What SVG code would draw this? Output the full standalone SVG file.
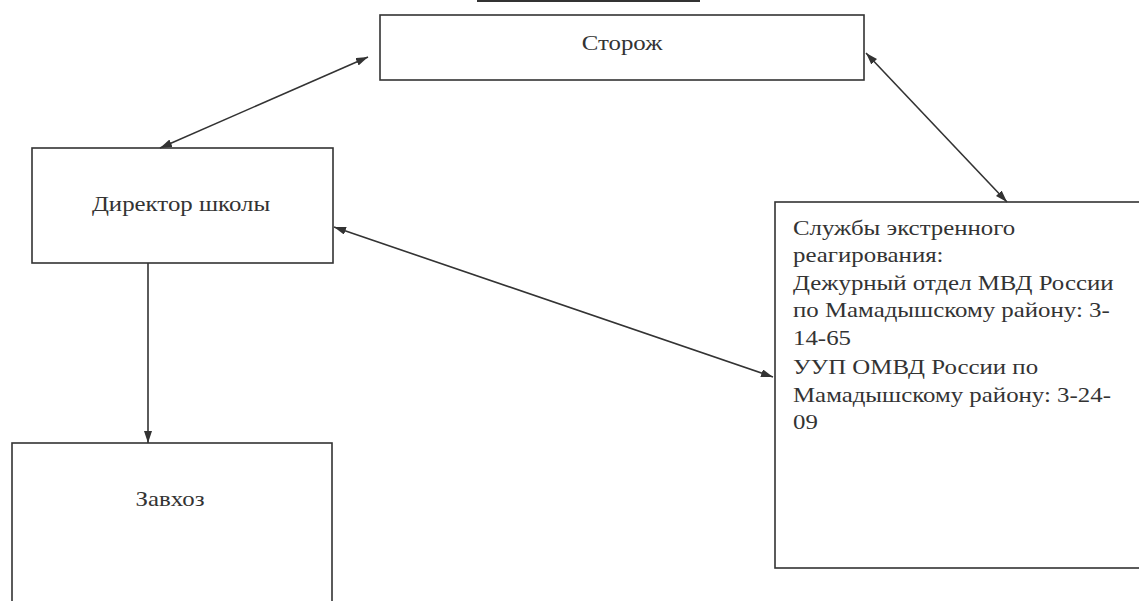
<svg xmlns="http://www.w3.org/2000/svg" width="1139" height="601" viewBox="0 0 1139 601">
<style>
.box{fill:#fff;stroke:#333;stroke-width:1.6}
.t{font-family:"Liberation Serif","Times New Roman",serif;fill:#333;font-size:22px}
.m{text-anchor:middle}
.c{stroke:#333;stroke-width:1.6;fill:none;marker-end:url(#ah);marker-start:url(#as)}
</style>
<defs>
<marker id="ah" viewBox="0 0 12 8" refX="12" refY="4" markerWidth="12" markerHeight="8" markerUnits="userSpaceOnUse" orient="auto"><path d="M0,0L12,4L0,8z" fill="#333"/></marker>
<marker id="as" viewBox="0 0 12 8" refX="0" refY="4" markerWidth="12" markerHeight="8" markerUnits="userSpaceOnUse" orient="auto"><path d="M12,0L0,4L12,8z" fill="#333"/></marker>
</defs>
<rect width="1139" height="601" fill="#fff"/>
<line x1="477" y1="1" x2="700" y2="1" stroke="#333" stroke-width="2"/>
<g id="storozh"><rect class="box" x="380" y="15" width="484" height="65"/><text class="t m" transform="translate(622,0) scale(1.13,1)" x="0" y="50">Сторож</text></g>
<g id="director"><rect class="box" x="32" y="148" width="301" height="115"/><text class="t m" transform="translate(181,0) scale(1.13,1)" x="0" y="211">Директор школы</text></g>
<g id="zavhoz"><rect class="box" x="12" y="443" width="320" height="170"/><text class="t m" transform="translate(170,0) scale(1.13,1)" x="0" y="506">Завхоз</text></g>
<g id="sluzhby"><rect class="box" x="775" y="202" width="370" height="366"/>
<text class="t" transform="translate(793,0) scale(1.13,1)"><tspan x="0" y="235">Службы экстренного</tspan><tspan x="0" y="262">реагирования:</tspan><tspan x="0" y="290">Дежурный отдел МВД России</tspan><tspan x="0" y="317">по Мамадышскому району: 3-</tspan><tspan x="0" y="345">14-65</tspan><tspan x="0" y="374">УУП ОМВД России по</tspan><tspan x="0" y="402">Мамадышскому району: 3-24-</tspan><tspan x="0" y="429">09</tspan></text></g>
<g id="connectors">
<line class="c" x1="160" y1="148" x2="368" y2="57"/>
<line class="c" x1="866" y1="53" x2="1007" y2="202"/>
<line class="c" x1="334" y1="227" x2="773" y2="377"/>
<line x1="148" y1="263" x2="148" y2="443" stroke="#333" stroke-width="1.6" marker-end="url(#ah)"/>
</g>
</svg>
